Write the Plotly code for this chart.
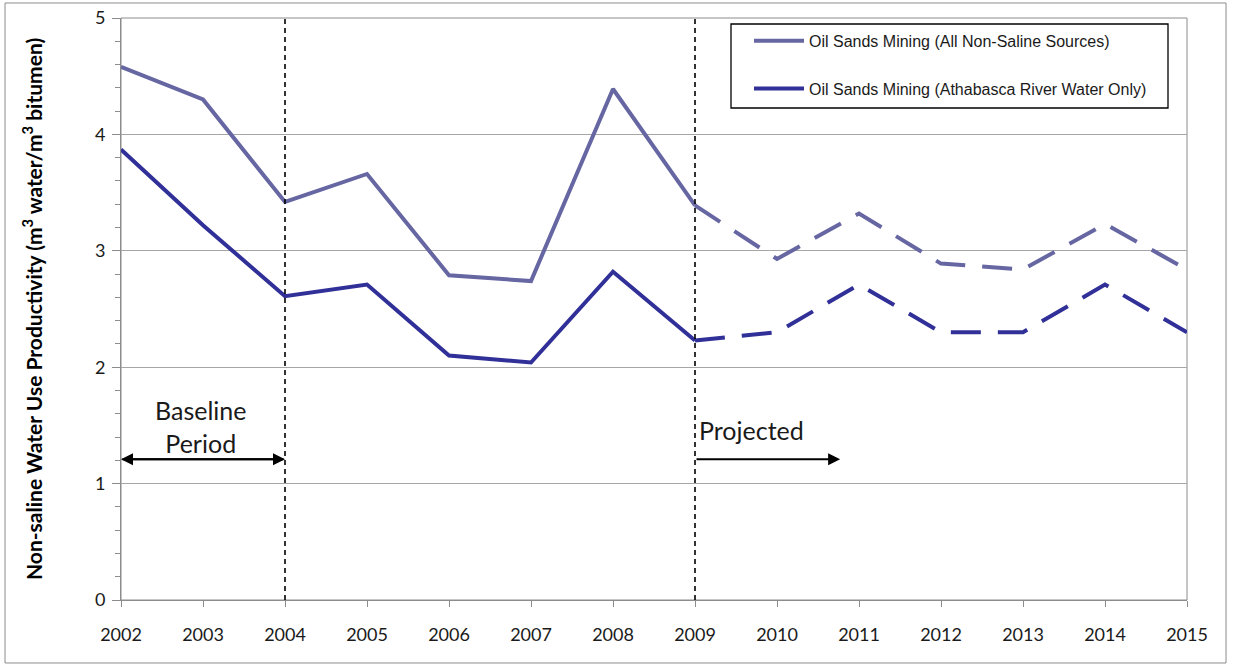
import plotly.graph_objects as go

years = list(range(2002, 2016))
all_sources = [4.58, 4.30, 3.42, 3.66, 2.79, 2.74, 4.39, 3.39, 2.93, 3.32, 2.89, 2.84, 3.23, 2.84]
athabasca = [3.87, 3.22, 2.61, 2.71, 2.10, 2.04, 2.82, 2.23, 2.30, 2.71, 2.30, 2.30, 2.71, 2.30]
split_year = 2009
baseline_end = 2004
arrow_level = 1.21
proj_arrow_end = 2010.77

c_all = "#6666A2"
c_ath = "#303098"

i = years.index(split_year)

fig = go.Figure()
fig.add_trace(go.Scatter(x=years[:i + 1], y=all_sources[:i + 1], mode="lines",
                         name="Oil Sands Mining (All Non-Saline Sources)",
                         line=dict(color=c_all, width=4), legendgroup="a"))
fig.add_trace(go.Scatter(x=years[i:], y=all_sources[i:], mode="lines", showlegend=False,
                         line=dict(color=c_all, width=4, dash="30px,17px"), legendgroup="a"))
fig.add_trace(go.Scatter(x=years[:i + 1], y=athabasca[:i + 1], mode="lines",
                         name="Oil Sands Mining (Athabasca River Water Only)",
                         line=dict(color=c_ath, width=4), legendgroup="b"))
fig.add_trace(go.Scatter(x=years[i:], y=athabasca[i:], mode="lines", showlegend=False,
                         line=dict(color=c_ath, width=4, dash="30px,17px"), legendgroup="b"))

shapes = []
for xv in (baseline_end, split_year):
    shapes.append(dict(type="line", xref="x", yref="paper", x0=xv, x1=xv, y0=0, y1=1,
                       line=dict(color="black", width=1.6, dash="5px,4px")))
# outer chart border
shapes.append(dict(type="rect", xref="paper", yref="paper", x0=-0.1088, x1=1.0366,
                   y0=-0.1082, y1=1.0258, line=dict(color="#8C8C8C", width=1)))
# plot area border
shapes.append(dict(type="rect", xref="paper", yref="paper", x0=0, x1=1, y0=0, y1=1,
                   line=dict(color="#8C8C8C", width=1), layer="below"))
# legend frame
shapes.append(dict(type="rect", xref="paper", yref="paper", x0=(731 - 121) / 1066,
                   x1=(1168 - 121) / 1066, y0=(600 - 108) / 582, y1=(600 - 24) / 582,
                   line=dict(color="black", width=1.3)))

tick_font = dict(family="Lato, Open Sans, sans-serif", size=18, color="#1a1a1a")
text_font = dict(family="Lato, Open Sans, sans-serif", size=25, color="#1a1a1a")
arrow_style = dict(xref="x", yref="y", axref="x", ayref="y", showarrow=True, arrowhead=2,
                   arrowsize=1.2, arrowwidth=2, arrowcolor="black", text="")
annotations = [
    dict(x=years[0], y=arrow_level, ax=baseline_end, ay=arrow_level, **arrow_style),
    dict(x=baseline_end, y=arrow_level, ax=years[0], ay=arrow_level, **arrow_style),
    dict(x=proj_arrow_end, y=arrow_level, ax=split_year, ay=arrow_level, **arrow_style),
    dict(x=2002.97, y=1.49, xref="x", yref="y", text="Baseline<br>Period", showarrow=False,
         font=text_font, align="center"),
    dict(x=split_year + 0.02, y=1.46, xref="x", yref="y", text="Projected", showarrow=False,
         xanchor="left", font=text_font),
    dict(x=-0.0835, y=0.5, xref="paper", yref="paper", textangle=-90, showarrow=False,
         xanchor="center", yanchor="middle",
         text="Non-saline Water Use Productivity (m<sup>3</sup> water/m<sup>3</sup> bitumen)",
         font=dict(family="Lato, Open Sans, sans-serif", size=21, color="#000000", weight="bold")),
]

fig.update_layout(
    width=1233, height=668,
    margin=dict(l=121, r=46, t=18, b=68),
    paper_bgcolor="white", plot_bgcolor="white",
    showlegend=True,
    legend=dict(x=(749 - 121) / 1066, y=0.99, xanchor="left", yanchor="top",
                borderwidth=0, bgcolor="rgba(0,0,0,0)",
                tracegroupgap=24, itemwidth=50,
                font=dict(family="Liberation Sans, Arial, sans-serif", size=16, color="#1a1a1a")),
    xaxis=dict(range=[2002, 2015], tickmode="array", tickvals=years, automargin=False,
               ticktext=[str(y) for y in years], showgrid=False, zeroline=False,
               showline=True, linecolor="#8C8C8C", ticks="outside", ticklen=6,
               tickcolor="#8C8C8C", tickfont=tick_font, ticklabelstandoff=12),
    yaxis=dict(range=[0, 5], dtick=1, showgrid=True, gridcolor="#A6A6A6", gridwidth=1,
               automargin=False,
               zeroline=False, showline=True, linecolor="#8C8C8C", ticks="outside",
               ticklen=8, tickcolor="#8C8C8C", tickfont=tick_font, ticklabelstandoff=3,
               minor=dict(dtick=0.2, ticks="outside", ticklen=5, tickcolor="#8C8C8C",
                          showgrid=False)),
    shapes=shapes,
    annotations=annotations,
)

fig.write_html("out.html", config={"displayModeBar": False},
               post_script="document.body.style.margin='0';")
